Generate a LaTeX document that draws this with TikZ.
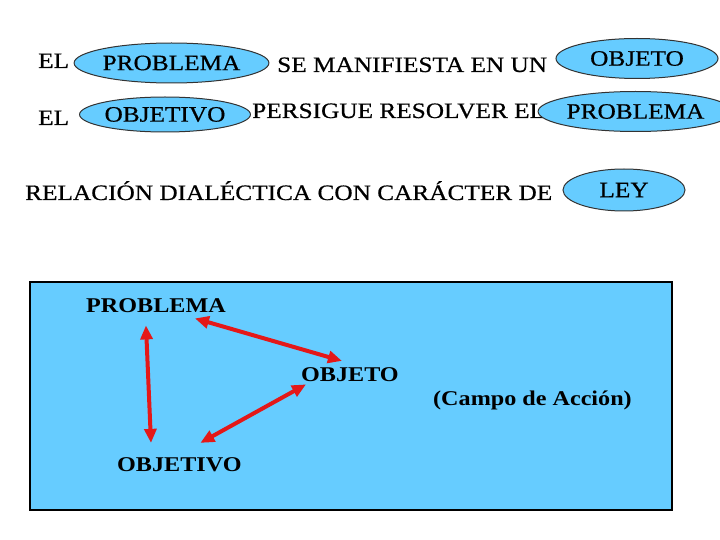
\documentclass[tikz,border=0pt]{standalone}
\usepackage{fontspec}
\setmainfont{Liberation Serif}[FakeStretch=1.15]
\newfontfamily\filafont{Liberation Serif}[FakeStretch=1.15,FakeBold=0.6]
\usetikzlibrary{shapes.geometric,arrows.meta}
\definecolor{celeste}{RGB}{102,204,255}
\definecolor{rojo}{RGB}{228,24,24}

\begin{document}
\begin{tikzpicture}[x=1pt,y=-1pt,
  frase/.style={anchor=base west, inner sep=0pt, font=\filafont\fontsize{22}{26}\selectfont},
  ovalo/.style={ellipse, draw=black!80, line width=1pt, fill=celeste, inner sep=0pt, font=\filafont\fontsize{22}{26}\selectfont},
  caja/.style={anchor=base west, inner sep=0pt, font=\bfseries\fontsize{21}{25}\selectfont},
  flecha/.style={draw=rojo, line width=4pt, {Triangle[length=14pt,width=12pt]}-{Triangle[length=14pt,width=12pt]}}]
\useasboundingbox (0,0) rectangle (720,540);

% Frases
\node[frase] (el1) at (38,68) {EL};
\node[ovalo, minimum width=187pt, minimum height=40pt] (prob1) at (171.5,63) {PROBLEMA};
\node[frase] (manif) at (277,72) {SE MANIFIESTA EN UN};
\node[ovalo, minimum width=162pt, minimum height=40pt] (obj1) at (637,58.5) {OBJETO};

\node[frase] (el2) at (38,125) {EL};
\node[ovalo, minimum width=164pt, minimum height=35pt] (objv1) at (165,114.5) {OBJETIVO};
\node[frase] (pers) at (252,118) {PERSIGUE RESOLVER EL};
\node[ovalo, minimum width=165pt, minimum height=40pt] (prob2) at (635.5,111.5) {PROBLEMA};

\node[frase] (rel) at (25,200) {RELACIÓN DIALÉCTICA CON CARÁCTER DE};
\node[ovalo, minimum width=122pt, minimum height=42pt] (ley) at (624,190) {LEY};

% Campo
\draw[fill=celeste, line width=1.5pt] (30,282) rectangle (672,510);
\node[caja] (pb) at (86,312) {PROBLEMA};
\node[caja] (ob) at (301,381) {OBJETO};
\node[caja] (ov) at (117,471) {OBJETIVO};
\node[caja] (campo) at (433,405) {(Campo de Acción)};

\draw[flecha] ([xshift=39pt,yshift=-6pt]pb.south) -- ([xshift=-8pt,yshift=6pt]ob.north);
\draw[flecha] ([xshift=-10pt,yshift=-13pt]pb.south) -- ([xshift=34pt,yshift=14pt]ov.north west);
\draw[flecha] ([xshift=21pt,yshift=14pt]ov.north) -- ([xshift=5pt,yshift=-3pt]ob.south west);

\end{tikzpicture}
\end{document}
